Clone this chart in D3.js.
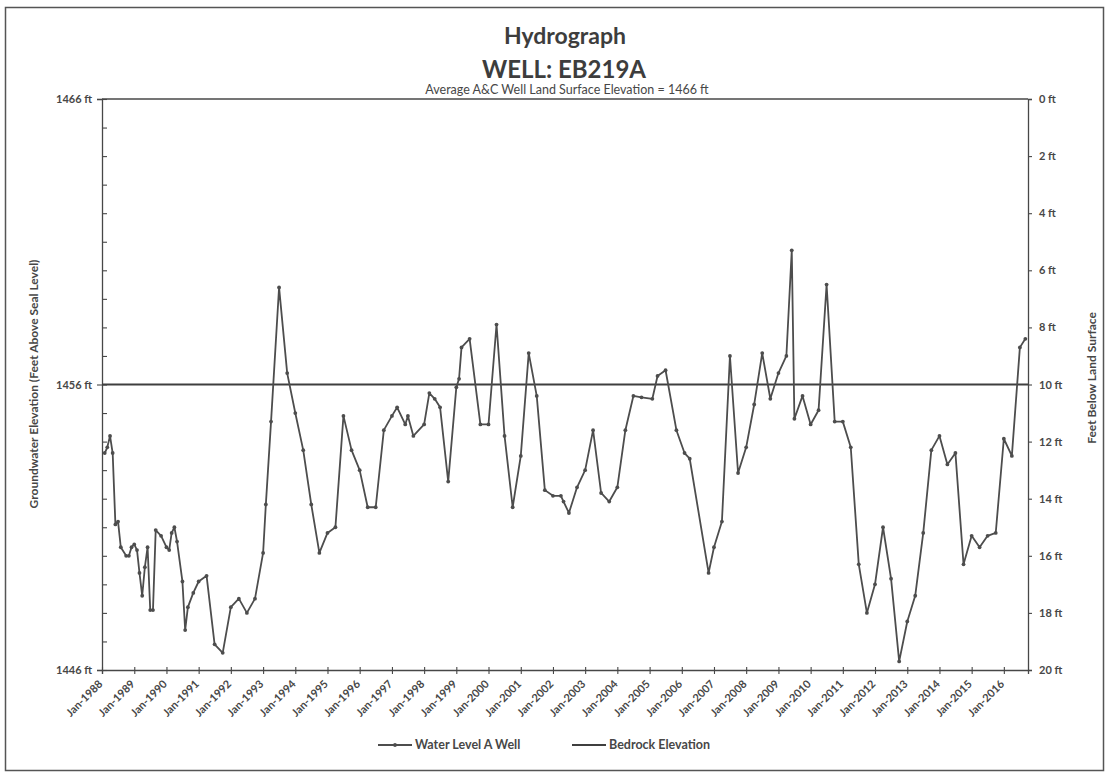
<!DOCTYPE html>
<html>
<head>
<meta charset="utf-8">
<script src="https://cdn.jsdelivr.net/npm/d3@7"></script>
<style>
	body { margin: 0; background: #fff; }
	svg text { font-family: Lato, "Open Sans", sans-serif; }
</style>
</head>
<body>
<div id="chart"></div>
<script>

// water level readings, A well (feet above sea level)
const sampleDates = [
	'1988-02','1988-03','1988-04','1988-05','1988-06','1988-07','1988-08','1988-10','1988-11','1988-12',
	'1989-01','1989-02','1989-03','1989-04','1989-05','1989-06','1989-07','1989-08','1989-09','1989-11',
	'1990-01','1990-02','1990-03','1990-04','1990-05','1990-07','1990-08','1990-09','1990-11',
	'1991-01','1991-04','1991-07','1991-10','1992-01','1992-04','1992-07','1992-10',
	'1993-01','1993-02','1993-04','1993-07','1993-10','1994-01','1994-04','1994-07','1994-10',
	'1995-01','1995-04','1995-07','1995-10','1996-01','1996-04','1996-07','1996-10',
	'1997-01','1997-03','1997-06','1997-07','1997-09','1998-01','1998-03','1998-05','1998-07','1998-10',
	'1999-01','1999-02','1999-03','1999-06','1999-10','2000-01','2000-04','2000-07','2000-10',
	'2001-01','2001-04','2001-07','2001-10','2002-01','2002-04','2002-05','2002-07','2002-10',
	'2003-01','2003-04','2003-07','2003-10','2004-01','2004-04','2004-07','2004-10',
	'2005-02','2005-04','2005-07','2005-11','2006-02','2006-04','2006-11',
	'2007-01','2007-04','2007-07','2007-10','2008-01','2008-04','2008-07','2008-10',
	'2009-01','2009-04','2009-06','2009-07','2009-10','2010-01','2010-04','2010-07','2010-10',
	'2011-01','2011-04','2011-07','2011-10','2012-01','2012-04','2012-07','2012-10',
	'2013-01','2013-04','2013-07','2013-10','2014-01','2014-04','2014-07','2014-10',
	'2015-01','2015-04','2015-07','2015-10','2016-01','2016-04','2016-07','2016-09'
];

const waterLevel = [
	1453.6,1453.8,1454.2,1453.6,1451.1,1451.2,1450.3,1450.0,1450.0,1450.3,
	1450.4,1450.2,1449.4,1448.6,1449.6,1450.3,1448.1,1448.1,1450.9,1450.7,
	1450.3,1450.2,1450.8,1451.0,1450.5,1449.1,1447.4,1448.2,1448.7,
	1449.1,1449.3,1446.9,1446.6,1448.2,1448.5,1448.0,1448.5,
	1450.1,1451.8,1454.7,1459.4,1456.4,1455.0,1453.7,1451.8,1450.1,
	1450.8,1451.0,1454.9,1453.7,1453.0,1451.7,1451.7,1454.4,
	1454.9,1455.2,1454.6,1454.9,1454.2,1454.6,1455.7,1455.5,1455.2,1452.6,
	1455.9,1456.2,1457.3,1457.6,1454.6,1454.6,1458.1,1454.2,1451.7,
	1453.5,1457.1,1455.6,1452.3,1452.1,1452.1,1451.9,1451.5,1452.4,
	1453.0,1454.4,1452.2,1451.9,1452.4,1454.4,1455.6,1455.55,
	1455.5,1456.3,1456.5,1454.4,1453.6,1453.4,1449.4,
	1450.3,1451.2,1457.0,1452.9,1453.8,1455.3,1457.1,1455.5,
	1456.4,1457.0,1460.7,1454.8,1455.6,1454.6,1455.1,1459.5,1454.7,
	1454.7,1453.8,1449.7,1448.0,1449.0,1451.0,1449.2,1446.3,
	1447.7,1448.6,1450.8,1453.7,1454.2,1453.2,1453.6,1449.7,
	1450.7,1450.3,1450.7,1450.8,1454.1,1453.5,1457.3,1457.6
];

// bedrock elevation, flat across the record
const bedrockDates = ['1988-01', '2016-10'];
const bedrockElevation = [1456, 1456];

const landSurface = 1466;

const yearTicks = [1988,1989,1990,1991,1992,1993,1994,1995,1996,1997,1998,1999,2000,2001,2002,
	2003,2004,2005,2006,2007,2008,2009,2010,2011,2012,2013,2014,2015,2016];
const elevationTicks = [1446, 1456, 1466];
const depthTicks = [0, 2, 4, 6, 8, 10, 12, 14, 16, 18, 20];

const width = 1108;
const height = 776;

const margin = {top: 99, right: 80, bottom: 106, left: 102};

const ink = '#474747';
const lineInk = '#4d4d4d';

const parseMonth = d3.timeParse('%Y-%m');

let svg = d3.select('#chart').append('svg')
.attr('width', width)
.attr('height', height);

svg.append('rect')
.attr('width', width)
.attr('height', height)
.attr('fill', '#fff');

// outer chart frame
svg.append('rect')
.attr('x', 5.5)
.attr('y', 7.5)
.attr('width', 1098)
.attr('height', 763)
.attr('fill', 'none')
.style('stroke', '#555')
.style('stroke-width', 1.5);

let x = d3.scaleTime()
.domain([parseMonth(bedrockDates[0]), parseMonth(bedrockDates[1])])
.range([margin.left, width - margin.right]);

let y = d3.scaleLinear()
.domain([1446, 1466])
.range([height - margin.bottom, margin.top]);

let yDepth = d3.scaleLinear()
.domain([0, 20])
.range([margin.top, height - margin.bottom]);

// left axis: minor ticks inside every foot, major labels outside
svg.append('g')
.attr('transform', `translate(${margin.left},0)`)
.call(d3.axisRight(y).ticks(20).tickSize(5).tickFormat(''))
.call(g => g.select('.domain').remove());

svg.append('g')
.attr('class', 'axis-left')
.attr('transform', `translate(${margin.left},0)`)
.call(d3.axisLeft(y).tickValues(elevationTicks).tickSize(5).tickPadding(5).tickFormat(d => d + ' ft'));

// right axis: depth below land surface
svg.append('g')
.attr('class', 'axis-right')
.attr('transform', `translate(${width - margin.right},0)`)
.call(d3.axisRight(yDepth).tickValues(depthTicks).tickSize(4).tickPadding(7).tickFormat(d => d + ' ft'));

// bottom axis
svg.append('g')
.attr('class', 'axis-bottom')
.attr('transform', `translate(0,${height - margin.bottom})`)
.call(d3.axisBottom(x)
	.tickValues(yearTicks.map(yr => new Date(yr, 0, 1)))
	.tickSize(4)
	.tickFormat(d3.timeFormat('Jan-%Y')))
.call(g => g.selectAll('.tick line').attr('y1', -3))
.call(g => g.selectAll('.tick text')
	.attr('text-anchor', 'end')
	.attr('x', 0)
	.attr('y', 0)
	.attr('dy', '0.35em')
	.attr('transform', 'translate(-2,12) rotate(-45)'));

// top frame line (land surface)
svg.append('line')
.attr('x1', margin.left)
.attr('x2', width - margin.right)
.attr('y1', y(landSurface))
.attr('y2', y(landSurface))
.style('stroke', ink)
.style('stroke-width', 1.3);

svg.selectAll('.domain')
.style('stroke', ink)
.style('stroke-width', 1.3);

svg.selectAll('.tick line')
.style('stroke', ink)
.style('stroke-width', 1.1);

svg.selectAll('.tick text')
.attr('fill', ink)
.style('font-size', '11px')
.style('font-weight', 'bold');

// bedrock elevation line
let bedrock = bedrockDates.map((d, i) => ({date: parseMonth(d), value: bedrockElevation[i]}));

let line = d3.line()
.x(d => x(d.date))
.y(d => y(d.value));

svg.append('path')
.datum(bedrock)
.attr('d', line)
.attr('fill', 'none')
.style('stroke', '#3f3f3f')
.style('stroke-width', 2);

// water level series
let readings = sampleDates.map((d, i) => ({date: parseMonth(d), value: waterLevel[i]}));

svg.append('path')
.datum(readings)
.attr('d', line)
.attr('fill', 'none')
.style('stroke', lineInk)
.style('stroke-width', 1.8)
.style('stroke-linejoin', 'round');

svg.append('g')
.selectAll('circle')
.data(readings)
.enter()
.append('circle')
.attr('cx', d => x(d.date))
.attr('cy', d => y(d.value))
.attr('r', 1.9)
.attr('fill', lineInk);

// titles
svg.append('text')
.attr('x', 565)
.attr('y', 44)
.attr('text-anchor', 'middle')
.attr('fill', '#3d3d3d')
.style('font-size', '23px')
.style('font-weight', 'bold')
.text('Hydrograph');

svg.append('text')
.attr('x', 564)
.attr('y', 78)
.attr('text-anchor', 'middle')
.attr('fill', '#3d3d3d')
.style('font-size', '24px')
.style('font-weight', 'bold')
.text('WELL: EB219A');

svg.append('text')
.attr('x', 567)
.attr('y', 94)
.attr('text-anchor', 'middle')
.attr('fill', ink)
.style('font-size', '12.5px')
.text('Average A&C Well Land Surface Elevation = 1466 ft');

svg.append('text')
.attr('transform', 'translate(38,384) rotate(-90)')
.attr('text-anchor', 'middle')
.attr('fill', ink)
.style('font-size', '12px')
.style('font-weight', 'bold')
.text('Groundwater Elevation (Feet Above Seal Level)');

svg.append('text')
.attr('transform', 'translate(1096,378) rotate(-90)')
.attr('text-anchor', 'middle')
.attr('fill', ink)
.style('font-size', '12px')
.style('font-weight', 'bold')
.text('Feet Below Land Surface');

// legend
let legend = svg.append('g')
.attr('transform', 'translate(0,745)');

legend.append('line')
.attr('x1', 378).attr('x2', 412)
.style('stroke', lineInk)
.style('stroke-width', 1.8);

legend.append('circle')
.attr('cx', 395)
.attr('r', 1.9)
.attr('fill', lineInk);

legend.append('text')
.attr('x', 415)
.attr('dy', '0.35em')
.attr('fill', ink)
.style('font-size', '12.5px')
.style('font-weight', 'bold')
.text('Water Level A Well');

legend.append('line')
.attr('x1', 572).attr('x2', 606)
.style('stroke', '#3f3f3f')
.style('stroke-width', 2);

legend.append('text')
.attr('x', 609)
.attr('dy', '0.35em')
.attr('fill', ink)
.style('font-size', '12.5px')
.style('font-weight', 'bold')
.text('Bedrock Elevation');

</script>
</body>
</html>
